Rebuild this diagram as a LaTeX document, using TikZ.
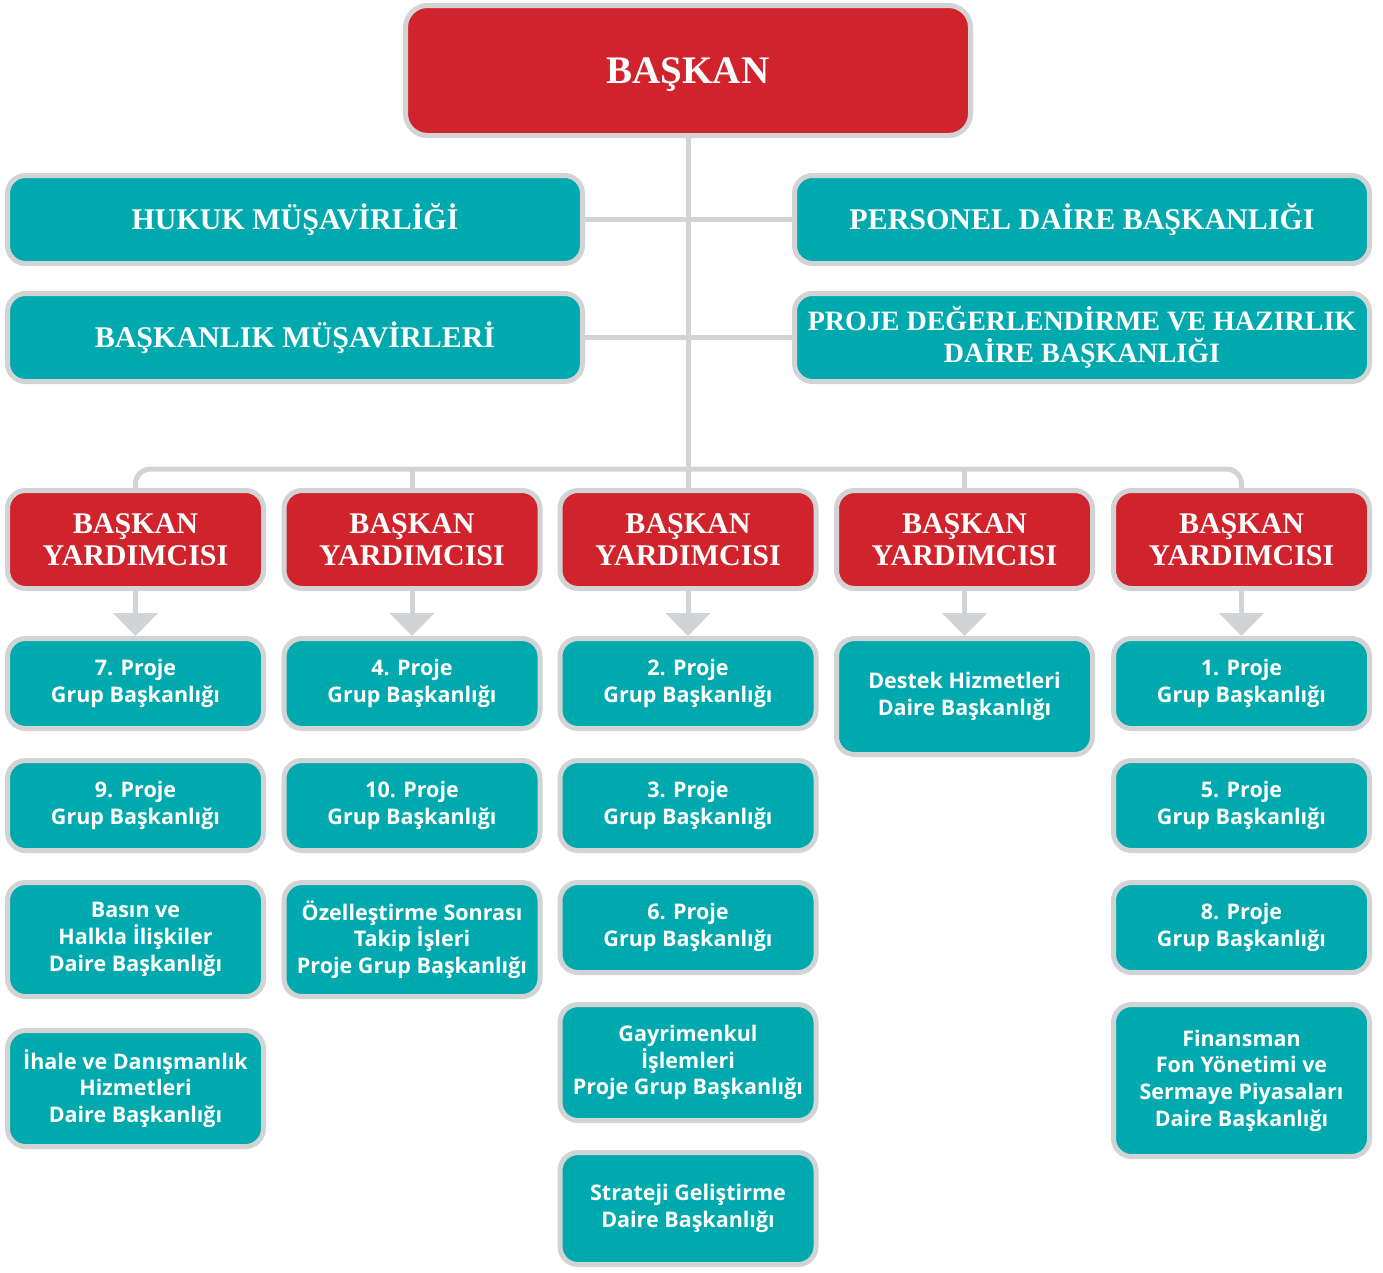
\documentclass[tikz,border=0pt]{standalone}
\usepackage{fontspec}
\newfontfamily\headfont{Liberation Serif}
\newfontfamily\unitfont{Open Sans}
\usetikzlibrary{
  positioning,
  arrows.meta
}
\definecolor{baskred}{HTML}{D0232B}
\definecolor{unitteal}{HTML}{00A9AD}
\definecolor{linegray}{HTML}{D1D3D4}
\tikzset{
  box/.style={
    rectangle,
    rounded corners=18pt,
    draw=linegray,
    line width=5pt,
    text=white,
    align=center,
    inner sep=0pt,
  },
  chief/.style={
    box,
    fill=baskred,
    font=\headfont\bfseries\fontsize{30}{32}\selectfont,
    minimum width=256pt,
    minimum height=98pt,
  },
  office/.style={
    box,
    fill=unitteal,
    font=\headfont\bfseries\fontsize{30}{32}\selectfont,
    minimum width=575pt,
    minimum height=88pt,
  },
  unit/.style={
    box,
    fill=unitteal,
    font=\unitfont\bfseries\fontsize{21.5}{26.7}\selectfont,
    minimum width=256pt,
    minimum height=90pt,
  },
  conn/.style={
    draw=linegray,
    line width=5pt,
  },
  down/.style={
    conn,
    -{Triangle[width=44pt,length=23pt]},
  },
}

\begin{document}
\begin{tikzpicture}[x=1pt,y=-1pt,node distance=27pt]
  \useasboundingbox (0,0) rectangle (1383,1272);
  \def\bar{469}

  % top level
  \node[chief,minimum width=565pt,minimum height=130pt,rounded corners=22pt,text depth=0pt,
    font=\headfont\bfseries\fontsize{39}{40}\selectfont] (bsk) at (688,70.5) {BAŞKAN};
  \node[office] (hukuk) at (295,219.5) {HUKUK MÜŞAVİRLİĞİ};
  \node[office] (personel) at (1082,219.5) {PERSONEL DAİRE BAŞKANLIĞI};
  \node[office] (bmus) at (295,337.5) {BAŞKANLIK MÜŞAVİRLERİ};
  \node[office,font=\headfont\bfseries\fontsize{28}{32}\selectfont] (pdh) at (1082,337.5)
    {PROJE DEĞERLENDİRME VE HAZIRLIK\\DAİRE BAŞKANLIĞI};

  % deputies
  \node[chief] (by1) at (135.5,539.5) {BAŞKAN\\YARDIMCISI};
  \node[chief] (by2) at (412,539.5) {BAŞKAN\\YARDIMCISI};
  \node[chief] (by3) at (688,539.5) {BAŞKAN\\YARDIMCISI};
  \node[chief] (by4) at (964.5,539.5) {BAŞKAN\\YARDIMCISI};
  \node[chief] (by5) at (1241.5,539.5) {BAŞKAN\\YARDIMCISI};

  % units
  \node[unit,below=45pt of by1] (g7) {7. Proje\\Grup Başkanlığı};
  \node[unit,below=of g7] (g9) {9. Proje\\Grup Başkanlığı};
  \node[unit,below=of g9,minimum height=114pt] (basin) {Basın ve\\Halkla İlişkiler\\Daire Başkanlığı};
  \node[unit,below=29pt of basin,minimum height=116pt] (ihale) {İhale ve Danışmanlık\\Hizmetleri\\Daire Başkanlığı};

  \node[unit,below=45pt of by2] (g4) {4. Proje\\Grup Başkanlığı};
  \node[unit,below=of g4] (g10) {10. Proje\\Grup Başkanlığı};
  \node[unit,below=of g10,minimum height=114pt] (ozel) {Özelleştirme Sonrası\\Takip İşleri\\Proje Grup Başkanlığı};

  \node[unit,below=45pt of by3] (g2) {2. Proje\\Grup Başkanlığı};
  \node[unit,below=of g2] (g3) {3. Proje\\Grup Başkanlığı};
  \node[unit,below=of g3] (g6) {6. Proje\\Grup Başkanlığı};
  \node[unit,below=of g6,minimum height=116pt] (gayri) {Gayrimenkul\\İşlemleri\\Proje Grup Başkanlığı};
  \node[unit,below=of gayri,minimum height=112pt] (strat) {Strateji Geliştirme\\Daire Başkanlığı};

  \node[unit,below=45pt of by4,minimum height=116pt] (destek) {Destek Hizmetleri\\Daire Başkanlığı};

  \node[unit,below=45pt of by5] (g1) {1. Proje\\Grup Başkanlığı};
  \node[unit,below=of g1] (g5) {5. Proje\\Grup Başkanlığı};
  \node[unit,below=of g5] (g8) {8. Proje\\Grup Başkanlığı};
  \node[unit,below=of g8,minimum height=152pt] (fin) {Finansman\\Fon Yönetimi ve\\Sermaye Piyasaları\\Daire Başkanlığı};

  % connectors
  \draw[conn] (bsk) -- (by3);
  \draw[conn] (hukuk) -- (personel);
  \draw[conn] (bmus) -- (pdh);
  \draw[conn,rounded corners=15pt] (by1.north) |- (by5.north |- 0,\bar) -- (by5.north);
  \draw[conn] (by2.north) -- (by2.north |- 0,\bar);
  \draw[conn] (by4.north) -- (by4.north |- 0,\bar);
  \foreach \a/\b in {by1/g7,by2/g4,by3/g2,by4/destek,by5/g1}
    \draw[down] (\a) -- (\b);
\end{tikzpicture}
\end{document}
